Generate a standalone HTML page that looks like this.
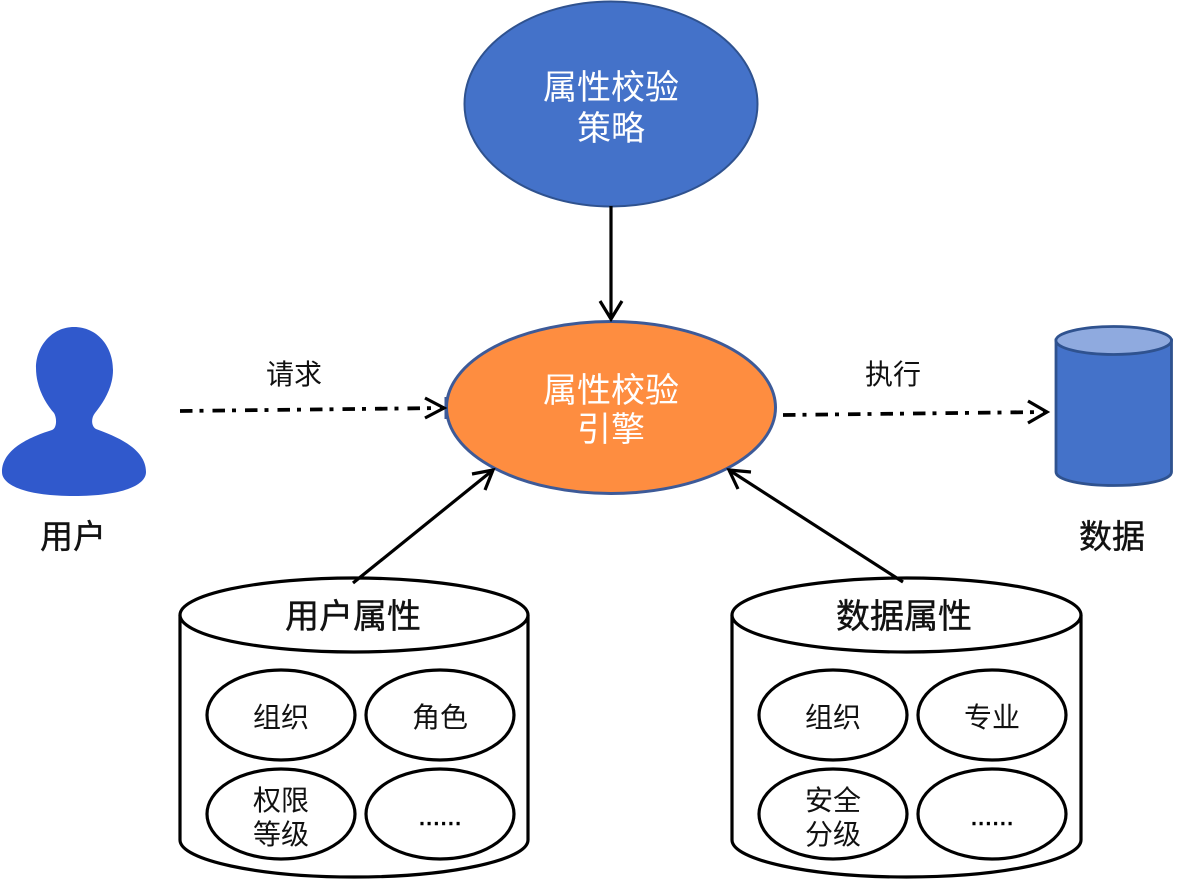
<!DOCTYPE html>
<html><head><meta charset="utf-8"><style>
html,body{margin:0;padding:0;background:#fff}
svg{display:block}
text{font-family:"Liberation Sans","Noto Sans CJK SC",sans-serif;text-anchor:middle}
.k{fill:#111}
.w{fill:#fff}
.d{fill:#000;stroke:#000;stroke-width:.6px}
.b{stroke:#111;stroke-width:.4px}
</style></head><body>
<svg width="1180" height="884" viewBox="0 0 1180 884" xmlns="http://www.w3.org/2000/svg">
<rect width="1180" height="884" fill="#fff"/>
<!-- top ellipse -->
<ellipse cx="611" cy="104" rx="146.500" ry="102.500" fill="#4472c9" stroke="#2f528f" stroke-width="2"/>
<text class="w" x="611" y="99" font-size="34">属性校验</text>
<text class="w" x="611" y="140" font-size="34">策略</text>
<!-- engine -->
<rect x="444.500" y="397" width="4" height="22" fill="#3d5a98"/>
<ellipse cx="611" cy="407.500" rx="164.500" ry="86" fill="#fe8d40" stroke="#3d5a98" stroke-width="3"/>
<text class="w" x="611" y="402" font-size="34">属性校验</text>
<text class="w" x="611" y="441" font-size="34">引擎</text>
<!-- person -->
<path d="M74 327C97 327 113 346 113 370C113 388 103 403 95 413C91 418 91 426 96 429C115 436 146 448 146 472C146 486 120 496 74 496C28 496 2 486 2 472C2 448 33 436 52 430C57 428 57 418 54 413C46 404 36 388 36 368C36 346 52 327 74 327Z" fill="#3059cc"/>
<text class="k b" x="73" y="548" font-size="33">用户</text>
<text class="k" x="294" y="384" font-size="28">请求</text>
<text class="k" x="893" y="384" font-size="28">执行</text>
<!-- db -->
<path d="M1056 340V472C1056 480 1082 485.500 1114 485.500C1146 485.500 1171.500 480 1171.500 472V340Z" fill="#4472c9" stroke="#2f528f" stroke-width="2.800"/>
<ellipse cx="1113.700" cy="340.500" rx="57.800" ry="14" fill="#8faadf" stroke="#2f528f" stroke-width="2.800"/>
<text class="k b" x="1112" y="548" font-size="33">数据</text>
<!-- cylinders -->
<g fill="#fff" stroke="#000" stroke-width="3.200">
<path d="M180 615V840C180 860 258 877 354 877C450 877 528 860 528 840V615"/>
<ellipse cx="354" cy="615" rx="174" ry="37"/>
<ellipse cx="281" cy="715" rx="74" ry="45"/>
<ellipse cx="440" cy="715" rx="74" ry="45"/>
<ellipse cx="281" cy="814" rx="74" ry="45"/>
<ellipse cx="440" cy="814" rx="74" ry="45"/>
<path d="M732 615V840C732 860 810 877 906.500 877C1003 877 1081 860 1081 840V615"/>
<ellipse cx="906.500" cy="615" rx="174.500" ry="37"/>
<ellipse cx="833" cy="715" rx="74" ry="45"/>
<ellipse cx="992" cy="715" rx="74" ry="45"/>
<ellipse cx="833" cy="814" rx="74" ry="45"/>
<ellipse cx="992" cy="814" rx="74" ry="45"/>
</g>
<!-- connectors -->
<g fill="none" stroke="#000" stroke-width="3.200">
<path d="M611 206V319"/><path d="M600 301L611 319L622 301"/>
<path d="M353 583L493 470"/><path d="M472 474L493 470L485 490"/>
<path d="M903 582L729 470"/><path d="M751 472L729 470L738 489"/>
<path d="M180 411L444 408" stroke-dasharray="12.500 7 4 9" stroke-width="3.800"/><path d="M425 398L444 408L425 418"/>
<path d="M783 415L1046 412" stroke-dasharray="12.500 7 4 9" stroke-width="3.800"/><path d="M1028 401L1047 412L1028 423"/>
</g>
<text class="k b" x="353" y="628" font-size="34">用户属性</text>
<text class="k" x="281" y="727" font-size="28">组织</text>
<text class="k" x="440" y="727" font-size="28">角色</text>
<text class="k" x="281" y="810" font-size="28">权限</text>
<text class="k" x="281" y="844" font-size="28">等级</text>
<text class="d" x="440" y="825" font-size="26">......</text>
<text class="k b" x="904" y="628" font-size="34">数据属性</text>
<text class="k" x="833" y="727" font-size="28">组织</text>
<text class="k" x="992" y="727" font-size="28">专业</text>
<text class="k" x="833" y="810" font-size="28">安全</text>
<text class="k" x="833" y="844" font-size="28">分级</text>
<text class="d" x="992" y="825" font-size="26">......</text>
</svg>
</body></html>
